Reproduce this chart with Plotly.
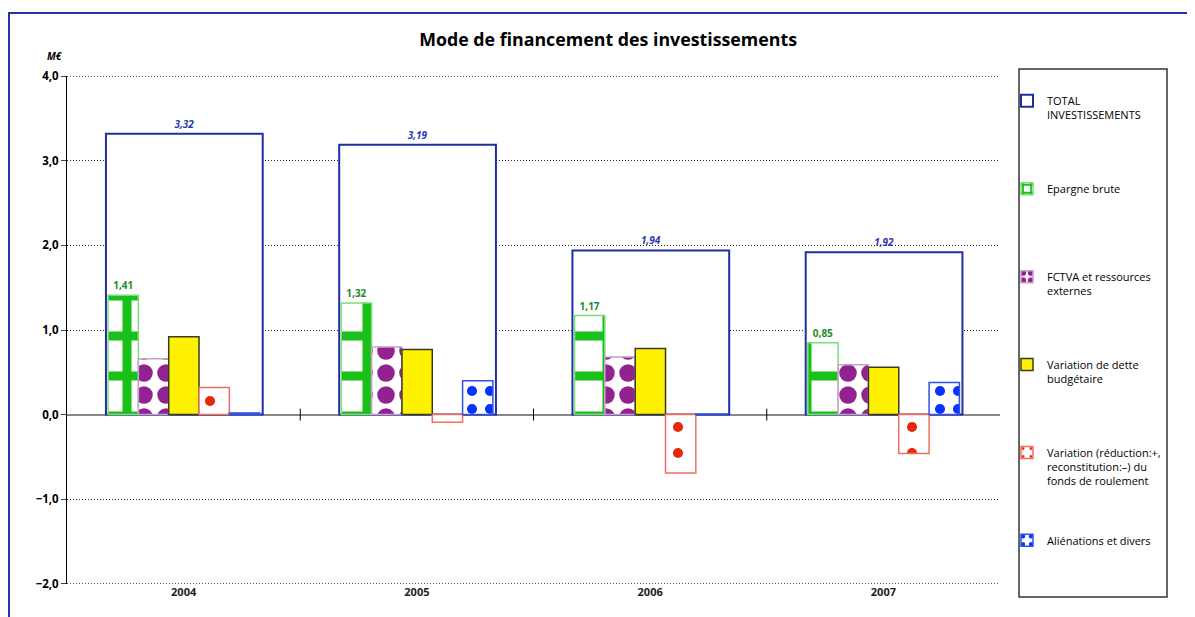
import plotly.graph_objects as go

years = ["2004", "2005", "2006", "2007"]
total_invest = [3.32, 3.19, 1.94, 1.92]
epargne_brute = [1.41, 1.32, 1.17, 0.85]
fctva = [0.66, 0.80, 0.68, 0.59]
dette = [0.92, 0.77, 0.78, 0.56]
fonds_roulement = [0.32, -0.09, -0.69, -0.46]
alienations = [0.02, 0.40, 0.005, 0.38]

y_ticks = [-2, -1, 0, 1, 2, 3, 4]

names = [
    "TOTAL<br>INVESTISSEMENTS<br> ",
    "Epargne brute<br> <br> ",
    "FCTVA et ressources<br>externes<br> ",
    "Variation de dette<br>budgétaire<br> ",
    "Variation (réduction:+,<br>reconstitution:–) du<br>fonds de roulement",
    "Aliénations et divers<br> <br> ",
]

FONT = "Open Sans"
fig = go.Figure()

fig.add_trace(go.Bar(
    x=years, y=total_invest, name=names[0], legendgroup="g0",
    width=0.672, offset=-0.333,
    marker=dict(color="white", line=dict(color="#1F2FA0", width=2)),
    text=[f"{v:.2f}".replace(".", ",") for v in total_invest],
    textposition="outside", cliponaxis=False,
    textfont=dict(family=FONT, size=10, color="#2A3AB0", style="italic", weight="bold"),
))

small_w = 0.13
start = -0.324
fig.add_trace(go.Bar(
    x=years, y=epargne_brute, name=names[1], legendgroup="g1",
    width=small_w, offset=start,
    marker=dict(color="white", line=dict(color="#7FDC7F", width=1.5),
                pattern=dict(shape="+", fgcolor="#18C018", bgcolor="white", size=40, solidity=0.4,
                             fillmode="overlay", fgopacity=1)),
    text=[f"{v:.2f}".replace(".", ",") for v in epargne_brute],
    textposition="outside", cliponaxis=False,
    textfont=dict(family=FONT, size=10, color="#238A2A", weight="bold"),
))
fig.add_trace(go.Bar(
    x=years, y=fctva, name=names[2], legendgroup="g2",
    width=small_w, offset=start + small_w,
    marker=dict(color="white", line=dict(color="#C8A0C8", width=1.5),
                pattern=dict(shape=".", fgcolor="#922292", bgcolor="white", size=22, solidity=0.5,
                             fillmode="overlay", fgopacity=1)),
))
fig.add_trace(go.Bar(
    x=years, y=dette, name=names[3], legendgroup="g3",
    width=small_w, offset=start + 2 * small_w,
    marker=dict(color="#FFF200", line=dict(color="#3A3A20", width=1.5)),
))
fig.add_trace(go.Bar(
    x=years, y=fonds_roulement, name=names[4], legendgroup="g4",
    width=small_w, offset=start + 3 * small_w,
    marker=dict(color="white", line=dict(color="#F07060", width=1.5),
                pattern=dict(shape=".", fgcolor="#E8280A", bgcolor="white", size=26, solidity=0.12,
                             fillmode="overlay", fgopacity=1)),
))
fig.add_trace(go.Bar(
    x=years, y=alienations, name=names[5], legendgroup="g5",
    width=small_w, offset=start + 4 * small_w,
    marker=dict(color="white", line=dict(color="#3050E8", width=1.5),
                pattern=dict(shape=".", fgcolor="#0A32FF", bgcolor="white", size=18, solidity=0.25,
                             fillmode="overlay", fgopacity=1)),
))

shapes = [
    # outer blue frame
    dict(type="rect", xref="paper", yref="paper", x0=-0.0622, x1=1.4, y0=-0.3, y1=1.124,
         line=dict(color="#2233AA", width=2), fillcolor="rgba(0,0,0,0)", layer="below"),
    # legend box
    dict(type="rect", xref="paper", yref="paper", x0=1.0204, x1=1.179, y0=-0.0256, y1=1.0138,
         line=dict(color="#333333", width=1.5), fillcolor="white", layer="below"),
]
# dotted gridlines on the range edges (plotly omits them)
for yv in [y_ticks[0], y_ticks[-1]]:
    shapes.append(dict(type="line", xref="paper", yref="y", x0=0, x1=1, y0=yv, y1=yv,
                       line=dict(color="#222222", width=1, dash="1px,2px"), layer="below"))
for b in [0.5, 1.5, 2.5]:
    shapes.append(dict(type="line", xref="x", yref="y", x0=b, x1=b, y0=-0.07, y1=0.07,
                       line=dict(color="black", width=1)))

fig.update_layout(
    width=1187, height=609,
    margin=dict(l=59, r=195, t=68, b=33, autoexpand=False),
    paper_bgcolor="white", plot_bgcolor="white",
    barmode="overlay",
    separators=", ",
    font=dict(family=FONT, color="black"),
    title=dict(text="<b>Mode de financement des investissements</b>", x=0.58, xref="paper",
               xanchor="center", y=0.9475, yanchor="middle",
               font=dict(family=FONT, size=17.8, color="black")),
    xaxis=dict(type="category", range=[-0.5, 3.5], showgrid=False, showline=False, ticks="",
               tickfont=dict(family=FONT, size=11, color="#222222", weight="bold"), zeroline=False),
    yaxis=dict(range=[-2.003, 4.003], tickvals=y_ticks, tickformat=".1f", showgrid=True,
               gridcolor="#222222", griddash="1px,2px", gridwidth=1,
               zeroline=True, zerolinecolor="#888888", zerolinewidth=2,
               showline=True, linecolor="black", linewidth=1, ticks="outside", ticklen=5,
               tickfont=dict(family=FONT, size=11.5, color="black", weight="bold")),
    legend=dict(x=1.0075, y=0.978, xanchor="left", yanchor="top", valign="top",
                tracegroupgap=42, font=dict(family=FONT, size=11, color="black"),
                bgcolor="rgba(0,0,0,0)", borderwidth=0, itemwidth=30),
    shapes=shapes,
    annotations=[dict(text="<b><i>M€</i></b>", xref="paper", yref="paper", x=-0.0236, y=1.057,
                      showarrow=False, font=dict(family=FONT, size=10, color="black"))],
    showlegend=True,
)

fig.write_html("out.html")
